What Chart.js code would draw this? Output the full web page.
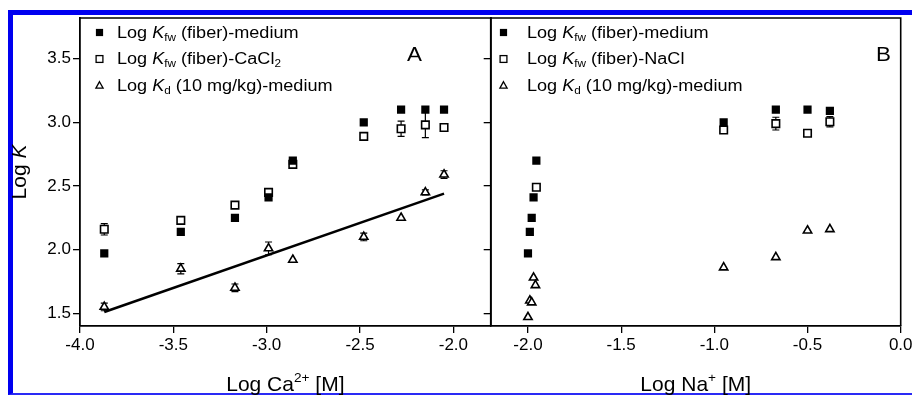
<!DOCTYPE html>
<html>
<head>
<meta charset="utf-8">
<script src="https://cdn.jsdelivr.net/npm/chart.js@4.4.1/dist/chart.umd.min.js"></script>
<style>
  html, body { margin: 0; padding: 0; background: #fff; }
  #wrap { position: relative; width: 912px; height: 396px; overflow: hidden; }
  #wrap canvas { position: absolute; left: 0; top: 0; }
  #frame { position: absolute; left: 8px; top: 10px; width: 920px; height: 385px; box-sizing: border-box;
           border-left: 5px solid #0000f0; border-top: 5px solid #0000f0; border-bottom: 2px solid #2a2af5; }
</style>
</head>
<body>
<div id="wrap">
  <div id="frame"></div>
  <canvas id="panelA" width="930" height="396"></canvas>
  <canvas id="panelB" width="930" height="396"></canvas>
</div>
<script>
// panel A : Log Ca2+ [M]
const caX = [-3.87, -3.46, -3.17, -2.99, -2.86, -2.48, -2.28, -2.15, -2.05];
const caFiberMedium = [1.97, 2.14, 2.25, 2.41, 2.70, 3.00, 3.10, 3.10, 3.10];
const caFiberCaCl2 = [2.16, 2.23, 2.35, 2.45, 2.67, 2.89, 2.95, 2.98, 2.96];
const caFiberCaCl2Err = [0.045, 0, 0, 0.02, 0, 0, 0.06, 0.10, 0];
const caKd = [1.55, 1.85, 1.70, 2.01, 1.92, 2.10, 2.25, 2.45, 2.59];
const caKdErr = [0.03, 0.04, 0.03, 0.05, 0, 0.03, 0, 0.02, 0.03];
const caFitX = [-3.87, -2.05];
const caFitY = [1.51, 2.44];

// panel B : Log Na+ [M]
const naMediumX = [-2.00, -1.99, -1.98, -1.97, -1.955, -0.95, -0.67, -0.50, -0.38];
const naMedium = [1.97, 2.14, 2.25, 2.41, 2.70, 3.00, 3.10, 3.10, 3.09];
const naNaClX = [-1.955, -0.95, -0.67, -0.50, -0.38];
const naNaCl = [2.49, 2.94, 2.99, 2.915, 3.005];
const naNaClErr = [0, 0, 0.05, 0, 0.04];
const naKdX = [-1.97, -1.96, -1.99, -1.98, -2.00, -0.95, -0.67, -0.50, -0.38];
const naKd = [1.78, 1.72, 1.60, 1.585, 1.47, 1.86, 1.94, 2.15, 2.16];

const yTicks = [1.5, 2.0, 2.5, 3.0, 3.5];
const caTicks = [-4.0, -3.5, -3.0, -2.5, -2.0];
const naTicks = [-2.0, -1.5, -1.0, -0.5, 0.0];

const FONT = '"Liberation Sans", Arial, sans-serif';
Chart.defaults.font.family = FONT;
Chart.defaults.color = '#000';

const pts = (xs, ys) => xs.map((x, i) => ({ x: x, y: ys[i] }));

// rich text: parts = [[text, kind]], kind '' | 'i' | 'sub' | 'sup'
function richWidth(ctx, parts, size) {
  let w = 0;
  parts.forEach(([t, k]) => {
    const fs = (k === 'sub' || k === 'sup') ? size * 0.65 : size;
    ctx.font = (k === 'i' ? 'italic ' : '') + fs + 'px ' + FONT;
    w += ctx.measureText(t).width;
  });
  return w;
}
function drawRich(ctx, parts, x, y, size, sx) {
  ctx.save();
  ctx.translate(x, y);
  ctx.scale(sx, 1);
  ctx.fillStyle = '#000';
  ctx.textBaseline = 'alphabetic';
  let cx = 0;
  parts.forEach(([t, k]) => {
    let fs = size, dy = 0;
    if (k === 'sub') { fs = size * 0.65; dy = size * 0.2; }
    if (k === 'sup') { fs = size * 0.65; dy = -size * 0.42; }
    ctx.font = (k === 'i' ? 'italic ' : '') + fs + 'px ' + FONT;
    ctx.fillText(t, cx, dy);
    cx += ctx.measureText(t).width;
  });
  ctx.restore();
}

function marker(ctx, style, x, y) {
  ctx.save();
  ctx.strokeStyle = '#000';
  ctx.fillStyle = '#000';
  ctx.lineWidth = 1.3;
  if (style === 'filled') {
    ctx.fillRect(x - 3.6, y - 3.6, 7.2, 7.2);
  } else if (style === 'open') {
    ctx.fillStyle = '#fff';
    ctx.fillRect(x - 3.4, y - 3.4, 6.8, 6.8);
    ctx.strokeRect(x - 3.4, y - 3.4, 6.8, 6.8);
  } else {
    ctx.beginPath();
    ctx.moveTo(x, y - 3.8);
    ctx.lineTo(x + 3.6, y + 2.6);
    ctx.lineTo(x - 3.6, y + 2.6);
    ctx.closePath();
    ctx.stroke();
  }
  ctx.restore();
}

const errorBars = {
  id: 'errorBars',
  beforeDatasetsDraw(chart) {
    const ctx = chart.ctx, ys = chart.scales.y;
    chart.data.datasets.forEach((ds, i) => {
      if (!ds.errors) return;
      const meta = chart.getDatasetMeta(i);
      ctx.save();
      ctx.strokeStyle = '#000';
      ctx.lineWidth = 1.2;
      meta.data.forEach((pt, j) => {
        const e = ds.errors[j];
        if (!e) return;
        const v = ds.data[j].y;
        const top = ys.getPixelForValue(v + e), bot = ys.getPixelForValue(v - e);
        ctx.beginPath();
        ctx.moveTo(pt.x, top); ctx.lineTo(pt.x, bot);
        ctx.moveTo(pt.x - 3.5, top); ctx.lineTo(pt.x + 3.5, top);
        ctx.moveTo(pt.x - 3.5, bot); ctx.lineTo(pt.x + 3.5, bot);
        ctx.stroke();
      });
      ctx.restore();
    });
  }
};

const panelText = {
  id: 'panelText',
  afterDraw(chart, args, opts) {
    const ctx = chart.ctx, a = chart.chartArea;
    // frame: top and right sides
    ctx.save();
    ctx.strokeStyle = '#000';
    ctx.lineWidth = 1.6;
    ctx.beginPath();
    ctx.moveTo(a.left, a.top); ctx.lineTo(a.right, a.top); ctx.lineTo(a.right, a.bottom);
    ctx.stroke();
    ctx.restore();
    // legend
    opts.legend.forEach((item, i) => {
      const cy = opts.legendY + i * 26.5;
      marker(ctx, item.marker, opts.markerX, cy - 5);
      drawRich(ctx, item.text, opts.textX, cy, 16, 1.13);
    });
    // panel letter
    drawRich(ctx, [[opts.letter, '']], opts.letterX, 60.5, 20, 1.12);
    // x title
    const w = richWidth(ctx, opts.xTitle, 21);
    drawRich(ctx, opts.xTitle, (a.left + a.right) / 2 - w / 2, 391, 21, 1);
    // y title
    if (opts.yTitle) {
      const wy = richWidth(ctx, opts.yTitle, 21);
      ctx.save();
      ctx.translate(26, 172);
      ctx.rotate(-Math.PI / 2);
      drawRich(ctx, opts.yTitle, -wy / 2, 0, 21, 1);
      ctx.restore();
    }
  }
};

function xScale(min, max, ticks) {
  return {
    type: 'linear', min: min, max: max,
    afterBuildTicks: s => { s.ticks = ticks.map(v => ({ value: v })); },
    afterFit: s => { s.height = 70; },
    ticks: { callback: v => v.toFixed(1), font: { size: 17 }, padding: 2, maxRotation: 0, autoSkip: false },
    grid: { drawOnChartArea: false, color: '#000', lineWidth: 1.3, tickLength: 7 },
    border: { color: '#000', width: 1.8 }
  };
}
function yScale(width, showLabels) {
  return {
    type: 'linear', min: 1.4, max: 3.82,
    afterBuildTicks: s => { s.ticks = yTicks.map(v => ({ value: v })); },
    afterFit: s => { s.width = width; },
    ticks: { display: showLabels, callback: v => v.toFixed(1), font: { size: 17 }, padding: 2 },
    grid: { drawOnChartArea: false, color: '#000', lineWidth: 1.3, tickLength: 7 },
    border: { color: '#000', width: 1.8 }
  };
}

const filledSq = { pointStyle: 'rect', pointRadius: 5.8, backgroundColor: '#000', borderColor: '#000', borderWidth: 0 };
const openSq = { pointStyle: 'rect', pointRadius: 5.3, backgroundColor: '#fff', borderColor: '#000', borderWidth: 1.6 };
const openTri = { pointStyle: 'triangle', pointRadius: 4.8, backgroundColor: '#fff', borderColor: '#000', borderWidth: 1.6 };

const legendA = [
  { marker: 'filled', text: [['Log ', ''], ['K', 'i'], ['fw', 'sub'], [' (fiber)-medium', '']] },
  { marker: 'open', text: [['Log ', ''], ['K', 'i'], ['fw', 'sub'], [' (fiber)-CaCl', ''], ['2', 'sub']] },
  { marker: 'tri', text: [['Log ', ''], ['K', 'i'], ['d', 'sub'], [' (10 mg/kg)-medium', '']] }
];
const legendB = [
  { marker: 'filled', text: [['Log ', ''], ['K', 'i'], ['fw', 'sub'], [' (fiber)-medium', '']] },
  { marker: 'open', text: [['Log ', ''], ['K', 'i'], ['fw', 'sub'], [' (fiber)-NaCl', '']] },
  { marker: 'tri', text: [['Log ', ''], ['K', 'i'], ['d', 'sub'], [' (10 mg/kg)-medium', '']] }
];

const chartA = new Chart(document.getElementById('panelA'), {
  type: 'scatter',
  data: {
    datasets: [
      Object.assign({ label: 'Kfw (fiber)-medium', data: pts(caX, caFiberMedium) }, filledSq),
      Object.assign({ label: 'Kfw (fiber)-CaCl2', data: pts(caX, caFiberCaCl2), errors: caFiberCaCl2Err }, openSq),
      Object.assign({ label: 'Kd (10 mg/kg)-medium', data: pts(caX, caKd), errors: caKdErr }, openTri),
      { label: 'fit', data: pts(caFitX, caFitY), showLine: true, borderColor: '#000', borderWidth: 2.6, pointRadius: 0 }
    ]
  },
  options: {
    responsive: false, animation: false, devicePixelRatio: 1,
    layout: { padding: { left: 0, right: 439.3, top: 18, bottom: 0 } },
    scales: { x: xScale(-4.0, -1.8, caTicks), y: yScale(80, true) },
    plugins: {
      legend: { display: false }, tooltip: { enabled: false },
      panelText: {
        legend: legendA, legendY: 37.5, markerX: 99.5, textX: 117, letter: 'A', letterX: 407,
        xTitle: [['Log Ca', ''], ['2+', 'sup'], [' [M]', '']],
        yTitle: [['Log ', ''], ['K', 'i']]
      }
    }
  },
  plugins: [errorBars, panelText]
});

const chartB = new Chart(document.getElementById('panelB'), {
  type: 'scatter',
  data: {
    datasets: [
      Object.assign({ label: 'Kfw (fiber)-medium', data: pts(naMediumX, naMedium) }, filledSq),
      Object.assign({ label: 'Kfw (fiber)-NaCl', data: pts(naNaClX, naNaCl), errors: naNaClErr }, openSq),
      Object.assign({ label: 'Kd (10 mg/kg)-medium', data: pts(naKdX, naKd) }, openTri)
    ]
  },
  options: {
    responsive: false, animation: false, devicePixelRatio: 1,
    layout: { padding: { left: 482.7, right: 29.3, top: 18, bottom: 0 } },
    scales: { x: xScale(-2.2, 0.0, naTicks), y: yScale(8, false) },
    plugins: {
      legend: { display: false }, tooltip: { enabled: false },
      panelText: {
        legend: legendB, legendY: 37.5, markerX: 503.5, textX: 527, letter: 'B', letterX: 876,
        xTitle: [['Log Na', ''], ['+', 'sup'], [' [M]', '']],
        yTitle: null
      }
    }
  },
  plugins: [errorBars, panelText]
});
</script>
</body>
</html>
